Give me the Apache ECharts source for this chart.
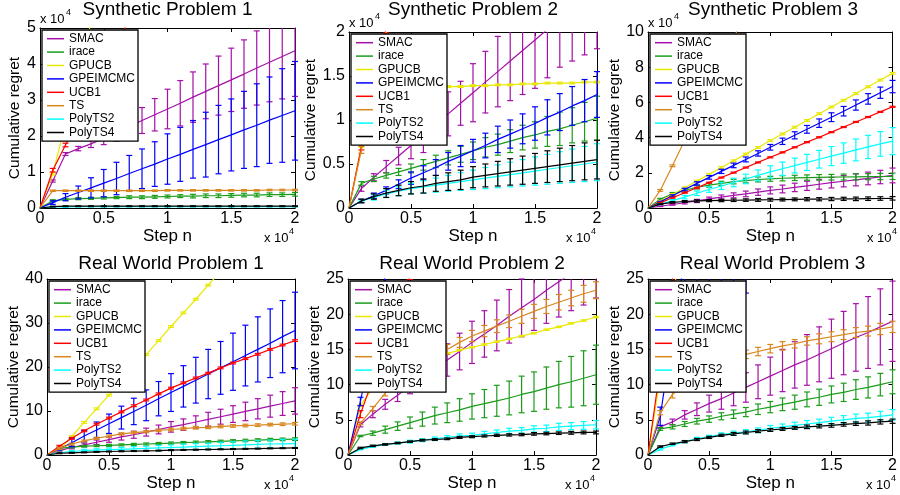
<!DOCTYPE html>
<html lang="en">
<head>
<meta charset="UTF-8">
<title>Cumulative regret</title>
<script src="https://cdn.jsdelivr.net/npm/echarts@6/dist/echarts.min.js"></script>
<style>
  html, body { margin: 0; padding: 0; background: #fff; }
  #main { width: 900px; height: 495px; }
</style>
</head>
<body>
<div id="main"></div>
<script type="text/javascript">
// step n (x axis), one value every 1000 steps
var steps = [0, 1000, 2000, 3000, 4000, 5000, 6000, 7000, 8000, 9000, 10000,
             11000, 12000, 13000, 14000, 15000, 16000, 17000, 18000, 19000, 20000];
var methods = ['SMAC', 'irace', 'GPUCB', 'GPEIMCMC', 'UCB1', 'TS', 'PolyTS2', 'PolyTS4'];
var titles = ['Synthetic Problem 1', 'Synthetic Problem 2', 'Synthetic Problem 3',
              'Real World Problem 1', 'Real World Problem 2', 'Real World Problem 3'];
// y axis ticks (synthetic problems are in units of 10^4)
var yMax  = [5, 2, 10, 40, 25, 25];
var yStep = [1, 0.5, 2, 10, 5, 5];

// mean cumulative regret, rows in the order of `methods`
var synth1Mean = [
  [0, 0.75, 1.5, 1.65, 1.78, 1.94, 2.1, 2.27, 2.43, 2.59, 2.75, 2.91, 3.08, 3.24, 3.4, 3.56, 3.72, 3.89, 4.05, 4.21, 4.37],
  [0, 0.2, 0.24, 0.26, 0.27, 0.28, 0.29, 0.3, 0.3, 0.31, 0.32, 0.33, 0.33, 0.34, 0.34, 0.35, 0.36, 0.36, 0.37, 0.37, 0.38],
  [0, 0.95, 2.35, 3.75, 5.15, 6.55],
  [0, 0.15, 0.3, 0.43, 0.56, 0.69, 0.82, 0.96, 1.09, 1.22, 1.36, 1.49, 1.63, 1.76, 1.9, 2.03, 2.17, 2.3, 2.44, 2.57, 2.7],
  [0, 1.05, 1.75, 2.45, 3.15, 3.85, 4.55, 5.25, 5.95],
  [0, 0.48, 0.48, 0.48, 0.48, 0.48, 0.48, 0.48, 0.48, 0.48, 0.49, 0.49, 0.49, 0.49, 0.49, 0.49, 0.49, 0.49, 0.5, 0.5, 0.5],
  [0, 0.03, 0.03, 0.04, 0.04, 0.04, 0.04, 0.04, 0.04, 0.04, 0.04, 0.04, 0.04, 0.04, 0.04, 0.04, 0.04, 0.04, 0.04, 0.04, 0.04],
  [0, 0.04, 0.05, 0.05, 0.05, 0.05, 0.05, 0.05, 0.05, 0.05, 0.05, 0.05, 0.05, 0.05, 0.05, 0.05, 0.05, 0.05, 0.05, 0.05, 0.05]
];
var synth1Err = [
  [0, 0.03, 0.04, 0.06, 0.1, 0.18, 0.25, 0.3, 0.36, 0.45, 0.55, 0.63, 0.7, 0.76, 0.82, 0.88, 0.95, 1.03, 1.1, 1.18, 1.27],
  [0, 0.03, 0.03, 0.03, 0.03, 0.03, 0.03, 0.04, 0.04, 0.04, 0.04, 0.04, 0.05, 0.05, 0.05, 0.05, 0.05, 0.05, 0.05, 0.05, 0.05],
  [0, 0.03, 0.04, 0.05, 0.06, 0.07],
  [0, 0.05, 0.1, 0.18, 0.28, 0.38, 0.45, 0.5, 0.55, 0.62, 0.7, 0.75, 0.8, 0.9, 0.95, 1.0, 1.07, 1.15, 1.2, 1.3, 1.37],
  [0, 0.05, 0.05, 0.06, 0.06, 0.07, 0.07, 0.08, 0.08],
  [0, 0.02, 0.02, 0.02, 0.02, 0.02, 0.02, 0.02, 0.02, 0.02, 0.02, 0.02, 0.02, 0.02, 0.02, 0.02, 0.02, 0.02, 0.02, 0.02, 0.02],
  [0, 0.01, 0.01, 0.01, 0.01, 0.01, 0.01, 0.01, 0.01, 0.01, 0.01, 0.01, 0.01, 0.01, 0.01, 0.01, 0.01, 0.01, 0.01, 0.01, 0.01],
  [0, 0.01, 0.01, 0.01, 0.01, 0.01, 0.01, 0.01, 0.01, 0.01, 0.01, 0.01, 0.01, 0.01, 0.01, 0.01, 0.01, 0.01, 0.01, 0.01, 0.01]
];

var synth2Mean = [
  [0, 0.22, 0.35, 0.47, 0.59, 0.71, 0.83, 0.95, 1.07, 1.19, 1.31, 1.43, 1.55, 1.67, 1.79, 1.91, 2.03, 2.15, 2.27, 2.39, 2.51],
  [0, 0.28, 0.33, 0.37, 0.41, 0.45, 0.49, 0.53, 0.57, 0.61, 0.65, 0.69, 0.72, 0.76, 0.8, 0.83, 0.87, 0.9, 0.94, 0.98, 1.02],
  [0, 0.7, 1.3, 1.34, 1.36, 1.37, 1.37, 1.37, 1.38, 1.38, 1.39, 1.39, 1.4, 1.4, 1.41, 1.41, 1.42, 1.42, 1.42, 1.43, 1.43],
  [0, 0.08, 0.14, 0.2, 0.27, 0.34, 0.4, 0.46, 0.53, 0.59, 0.65, 0.71, 0.78, 0.84, 0.9, 0.96, 1.03, 1.09, 1.16, 1.22, 1.29],
  [0, 0.7, 1.38, 2.05],
  [0, 0.66, 1.33, 2.0],
  [0, 0.08, 0.12, 0.16, 0.19, 0.22, 0.24, 0.26, 0.28, 0.3, 0.32, 0.34, 0.36, 0.38, 0.4, 0.42, 0.44, 0.46, 0.48, 0.5, 0.52],
  [0, 0.08, 0.13, 0.17, 0.2, 0.23, 0.25, 0.28, 0.3, 0.32, 0.35, 0.37, 0.39, 0.41, 0.43, 0.45, 0.47, 0.49, 0.51, 0.53, 0.55]
];
var synth2Err = [
  [0, 0.03, 0.04, 0.07, 0.1, 0.15, 0.2, 0.2, 0.25, 0.25, 0.33, 0.35, 0.4, 0.45, 0.5, 0.55, 0.55, 0.55, 0.6, 0.65, 0.7],
  [0, 0.02, 0.03, 0.03, 0.04, 0.05, 0.06, 0.07, 0.08, 0.09, 0.1, 0.11, 0.12, 0.13, 0.14, 0.15, 0.17, 0.19, 0.2, 0.22, 0.25],
  [0, 0.01, 0.01, 0.01, 0.01, 0.01, 0.01, 0.01, 0.01, 0.01, 0.01, 0.01, 0.01, 0.01, 0.01, 0.01, 0.01, 0.01, 0.01, 0.01, 0.01],
  [0, 0.02, 0.03, 0.04, 0.05, 0.07, 0.08, 0.09, 0.1, 0.12, 0.13, 0.14, 0.15, 0.16, 0.17, 0.19, 0.2, 0.21, 0.22, 0.24, 0.26],
  [0, 0.04, 0.05, 0.06],
  [0, 0.04, 0.05, 0.06],
  [0, 0.01, 0.03, 0.04, 0.05, 0.06, 0.07, 0.08, 0.09, 0.1, 0.11, 0.12, 0.13, 0.14, 0.15, 0.16, 0.17, 0.18, 0.19, 0.2, 0.21],
  [0, 0.02, 0.03, 0.05, 0.06, 0.07, 0.08, 0.09, 0.1, 0.11, 0.12, 0.13, 0.14, 0.15, 0.16, 0.17, 0.18, 0.19, 0.2, 0.21, 0.22]
];

var synth3Mean = [
  [0, 0.1, 0.2, 0.3, 0.4, 0.52, 0.62, 0.72, 0.8, 0.9, 1.0, 1.08, 1.17, 1.26, 1.35, 1.44, 1.52, 1.6, 1.68, 1.76, 1.85],
  [0, 0.5, 0.8, 1.0, 1.18, 1.3, 1.4, 1.5, 1.56, 1.62, 1.66, 1.69, 1.71, 1.73, 1.74, 1.75, 1.76, 1.77, 1.78, 1.79, 1.8],
  [0, 0.38, 0.77, 1.15, 1.53, 1.91, 2.3, 2.68, 3.06, 3.44, 3.83, 4.21, 4.59, 4.97, 5.36, 5.74, 6.12, 6.5, 6.89, 7.27, 7.65],
  [0, 0.35, 0.7, 1.05, 1.4, 1.74, 2.08, 2.42, 2.76, 3.1, 3.45, 3.79, 4.13, 4.47, 4.82, 5.16, 5.5, 5.85, 6.2, 6.55, 6.9],
  [0, 0.29, 0.58, 0.87, 1.15, 1.44, 1.73, 2.01, 2.3, 2.59, 2.88, 3.16, 3.45, 3.74, 4.02, 4.31, 4.6, 4.89, 5.17, 5.46, 5.75],
  [0, 1.0, 2.4, 3.85, 5.3, 6.75, 8.2, 9.65, 11.1],
  [0, 0.22, 0.42, 0.62, 0.84, 1.05, 1.25, 1.45, 1.65, 1.85, 2.05, 2.23, 2.41, 2.59, 2.77, 2.95, 3.12, 3.3, 3.47, 3.64, 3.8],
  [0, 0.22, 0.32, 0.37, 0.4, 0.42, 0.43, 0.44, 0.45, 0.46, 0.47, 0.48, 0.49, 0.5, 0.5, 0.51, 0.52, 0.52, 0.53, 0.54, 0.55]
];
var synth3Err = [
  [0, 0.02, 0.04, 0.07, 0.09, 0.1, 0.12, 0.14, 0.16, 0.18, 0.2, 0.22, 0.24, 0.26, 0.28, 0.3, 0.32, 0.34, 0.36, 0.38, 0.42],
  [0, 0.05, 0.08, 0.1, 0.1, 0.12, 0.12, 0.13, 0.13, 0.14, 0.14, 0.15, 0.15, 0.15, 0.16, 0.16, 0.17, 0.17, 0.17, 0.18, 0.18],
  [0, 0.05, 0.05, 0.05, 0.05, 0.05, 0.05, 0.05, 0.05, 0.05, 0.05, 0.05, 0.05, 0.05, 0.05, 0.05, 0.05, 0.05, 0.05, 0.05, 0.05],
  [0, 0.03, 0.05, 0.07, 0.09, 0.1, 0.12, 0.13, 0.14, 0.15, 0.16, 0.18, 0.2, 0.22, 0.24, 0.25, 0.27, 0.29, 0.3, 0.32, 0.35],
  [0, 0.03, 0.03, 0.03, 0.03, 0.03, 0.03, 0.03, 0.03, 0.03, 0.03, 0.03, 0.03, 0.03, 0.03, 0.03, 0.03, 0.03, 0.03, 0.03, 0.03],
  [0, 0.05, 0.05, 0.05, 0.05, 0.05, 0.05, 0.05, 0.05],
  [0, 0.03, 0.06, 0.1, 0.13, 0.16, 0.2, 0.24, 0.27, 0.31, 0.35, 0.38, 0.42, 0.46, 0.5, 0.54, 0.58, 0.62, 0.66, 0.7, 0.77],
  [0, 0.02, 0.04, 0.05, 0.06, 0.06, 0.07, 0.07, 0.07, 0.08, 0.08, 0.08, 0.08, 0.09, 0.09, 0.09, 0.09, 0.1, 0.1, 0.1, 0.1]
];

var real1Mean = [
  [0, 1.0, 1.7, 2.3, 2.9, 3.5, 4.1, 4.6, 5.2, 5.8, 6.4, 6.9, 7.5, 8.1, 8.7, 9.3, 9.9, 10.5, 11.1, 11.7, 12.3],
  [0, 1.5, 1.8, 2.0, 2.1, 2.2, 2.3, 2.4, 2.5, 2.6, 2.7, 2.8, 2.9, 3.0, 3.1, 3.2, 3.3, 3.4, 3.5, 3.55, 3.6],
  [0, 1.2, 4.2, 7.4, 10.5, 13.6, 16.6, 19.8, 22.8, 26.0, 29.2, 32.3, 35.4, 38.6, 41.7],
  [0, 1.4, 2.8, 4.3, 5.7, 7.1, 8.5, 9.9, 11.3, 12.8, 14.2, 15.6, 17.0, 18.4, 19.8, 21.2, 22.6, 24.0, 25.4, 26.9, 28.3],
  [0, 2.0, 3.8, 5.5, 7.0, 8.4, 9.8, 11.2, 12.5, 13.9, 15.2, 16.4, 17.5, 18.6, 19.8, 20.9, 21.9, 22.9, 24.0, 25.0, 26.0],
  [0, 1.5, 2.5, 3.2, 3.8, 4.3, 4.8, 5.1, 5.3, 5.6, 5.8, 6.0, 6.2, 6.3, 6.5, 6.6, 6.7, 6.8, 6.9, 7.0, 7.1],
  [0, 0.5, 0.8, 1.0, 1.1, 1.2, 1.3, 1.4, 1.5, 1.6, 1.7, 1.8, 1.9, 2.0, 2.1, 2.2, 2.3, 2.4, 2.5, 2.55, 2.6],
  [0, 0.4, 0.5, 0.6, 0.7, 0.8, 0.85, 0.9, 0.95, 1.0, 1.1, 1.15, 1.2, 1.25, 1.3, 1.35, 1.4, 1.45, 1.5, 1.55, 1.6]
];
var real1Err = [
  [0, 0.2, 0.3, 0.4, 0.5, 0.6, 0.7, 0.8, 0.9, 1.0, 1.2, 1.3, 1.4, 1.6, 1.7, 1.9, 2.1, 2.3, 2.5, 2.7, 3.0],
  [0, 0.15, 0.2, 0.2, 0.2, 0.22, 0.22, 0.24, 0.24, 0.25, 0.25, 0.26, 0.26, 0.27, 0.27, 0.28, 0.28, 0.29, 0.29, 0.3, 0.3],
  [0, 0.2, 0.2, 0.2, 0.2, 0.2, 0.2, 0.2, 0.2, 0.2, 0.2, 0.2, 0.2, 0.2, 0.2],
  [0, 0.3, 0.9, 1.3, 1.8, 2.2, 2.6, 3.0, 3.5, 3.9, 4.3, 4.7, 5.2, 5.6, 6.0, 6.5, 6.9, 7.4, 7.8, 8.2, 8.7],
  [0, 0.2, 0.2, 0.2, 0.2, 0.2, 0.2, 0.2, 0.2, 0.2, 0.2, 0.2, 0.2, 0.2, 0.2, 0.2, 0.2, 0.2, 0.2, 0.2, 0.2],
  [0, 0.2, 0.2, 0.2, 0.25, 0.25, 0.25, 0.25, 0.25, 0.3, 0.3, 0.3, 0.3, 0.3, 0.3, 0.3, 0.3, 0.3, 0.3, 0.3, 0.3],
  [0, 0.1, 0.2, 0.3, 0.3, 0.4, 0.4, 0.5, 0.5, 0.6, 0.6, 0.7, 0.7, 0.7, 0.8, 0.8, 0.9, 0.9, 0.9, 1.0, 1.0],
  [0, 0.1, 0.1, 0.1, 0.1, 0.1, 0.1, 0.1, 0.1, 0.1, 0.1, 0.1, 0.1, 0.1, 0.1, 0.1, 0.1, 0.1, 0.1, 0.1, 0.1]
];

var real2Mean = [
  [0, 4.3, 5.8, 7.2, 8.5, 9.8, 11.0, 12.3, 13.5, 14.7, 16.0, 17.2, 18.4, 19.7, 20.9, 22.1, 23.4, 24.6, 25.8, 27.0, 28.3],
  [0, 2.7, 3.1, 3.6, 4.1, 4.6, 5.1, 5.6, 6.0, 6.4, 6.9, 7.3, 7.7, 8.1, 8.6, 9.0, 9.5, 10.0, 10.4, 10.9, 11.4],
  [0, 7.0, 9.5, 11.0, 12.0, 12.8, 13.4, 13.9, 14.4, 14.9, 15.3, 15.7, 16.1, 16.5, 16.9, 17.3, 17.8, 18.2, 18.7, 19.1, 19.6],
  [0, 7.6, 16.2, 25.5],
  [0, 5.8, 10.7, 15.6, 20.5, 25.4],
  [0, 4.5, 6.6, 8.8, 10.5, 11.9, 13.0, 14.0, 15.0, 16.0, 16.9, 17.6, 18.3, 19.0, 19.7, 20.4, 21.1, 21.7, 22.3, 22.9, 23.4],
  [0, 0.8, 1.2, 1.5, 1.7, 1.9, 2.1, 2.3, 2.5, 2.7, 2.8, 3.0, 3.2, 3.4, 3.5, 3.7, 3.8, 4.0, 4.1, 4.2, 4.3],
  [0, 1.0, 1.3, 1.5, 1.7, 1.9, 2.1, 2.2, 2.3, 2.5, 2.6, 2.7, 2.8, 2.85, 2.9, 3.0, 3.05, 3.1, 3.15, 3.2, 3.2]
];
var real2Err = [
  [0, 0.3, 0.5, 0.7, 0.9, 1.1, 1.5, 1.9, 2.3, 2.6, 3.0, 3.3, 3.6, 3.8, 4.1, 4.4, 4.7, 5.0, 5.3, 5.7, 6.0],
  [0, 0.1, 0.3, 0.5, 0.6, 0.8, 1.0, 1.2, 1.4, 1.6, 1.8, 2.0, 2.2, 2.4, 2.6, 2.8, 3.0, 3.3, 3.6, 3.9, 4.2],
  [0, 0.1, 0.1, 0.1, 0.1, 0.1, 0.1, 0.1, 0.1, 0.1, 0.1, 0.1, 0.1, 0.1, 0.1, 0.1, 0.1, 0.1, 0.1, 0.1, 0.1],
  [0, 0.6, 0.8, 1.0],
  [0, 0.5, 0.5, 0.5, 0.5, 0.5],
  [0, 0.2, 0.3, 0.4, 0.5, 0.5, 0.6, 0.6, 0.7, 0.7, 0.8, 0.8, 0.9, 0.9, 1.0, 1.0, 1.0, 1.1, 1.1, 1.2, 1.2],
  [0, 0.05, 0.1, 0.1, 0.15, 0.2, 0.2, 0.25, 0.25, 0.3, 0.3, 0.35, 0.35, 0.4, 0.4, 0.45, 0.45, 0.5, 0.5, 0.55, 0.6],
  [0, 0.1, 0.1, 0.1, 0.1, 0.1, 0.12, 0.12, 0.12, 0.14, 0.14, 0.14, 0.16, 0.16, 0.16, 0.18, 0.18, 0.18, 0.2, 0.2, 0.2]
];

var real3Mean = [
  [0, 4.0, 4.7, 5.7, 6.5, 7.3, 8.0, 8.8, 9.6, 10.4, 11.2, 12.0, 12.8, 13.5, 14.3, 15.1, 15.9, 16.7, 17.4, 18.2, 19.0],
  [0, 3.7, 4.0, 4.4, 4.8, 5.1, 5.5, 5.8, 6.1, 6.5, 6.8, 7.2, 7.5, 7.9, 8.2, 8.6, 8.9, 9.3, 9.6, 10.0, 10.4],
  [0, 11.0, 22.0, 33.0],
  [0, 5.5, 17.0, 28.0, 34.0, 38.0, 41.0, 44.0, 46.0, 48.0, 50.0],
  [0, 12.5, 25.0, 37.5],
  [0, 6.0, 8.6, 10.2, 11.5, 12.5, 13.2, 13.8, 14.3, 14.7, 15.1, 15.5, 15.8, 16.2, 16.5, 16.8, 17.1, 17.4, 17.6, 17.9, 18.2],
  [0, 0.8, 1.4, 1.9, 2.3, 2.6, 2.9, 3.1, 3.3, 3.5, 3.8, 4.0, 4.2, 4.4, 4.6, 4.8, 5.0, 5.2, 5.3, 5.5, 5.7],
  [0, 1.2, 1.6, 1.9, 2.2, 2.5, 2.8, 3.0, 3.2, 3.4, 3.55, 3.7, 3.85, 4.0, 4.1, 4.2, 4.35, 4.45, 4.55, 4.7, 4.8]
];
var real3Err = [
  [0, 0.2, 0.4, 0.6, 0.9, 1.2, 1.5, 1.8, 2.1, 2.4, 2.7, 3.0, 3.3, 3.6, 3.9, 4.2, 4.5, 4.8, 5.1, 5.4, 5.7],
  [0, 0.2, 0.3, 0.35, 0.4, 0.45, 0.5, 0.6, 0.65, 0.75, 0.8, 0.9, 1.0, 1.05, 1.15, 1.2, 1.3, 1.4, 1.5, 1.6, 1.7],
  [0, 0.3, 0.3, 0.3],
  [0, 1.3, 7.0, 18.0, 9.5, 14.0, 17.0, 20.0, 23.0, 22.0, 21.0],
  [0, 0.3, 0.3, 0.3],
  [0, 0.3, 0.5, 0.5, 0.5, 0.5, 0.6, 0.6, 0.6, 0.6, 0.6, 0.6, 0.6, 0.6, 0.7, 0.7, 0.7, 0.7, 0.7, 0.8, 0.8],
  [0, 0.1, 0.1, 0.15, 0.2, 0.2, 0.25, 0.3, 0.3, 0.35, 0.4, 0.4, 0.45, 0.5, 0.5, 0.55, 0.6, 0.6, 0.65, 0.7, 0.75],
  [0, 0.1, 0.1, 0.15, 0.15, 0.15, 0.15, 0.2, 0.2, 0.2, 0.2, 0.2, 0.2, 0.25, 0.25, 0.25, 0.25, 0.25, 0.3, 0.3, 0.3]
];

var allMean = [synth1Mean, synth2Mean, synth3Mean, real1Mean, real2Mean, real3Mean];
var allErr  = [synth1Err, synth2Err, synth3Err, real1Err, real2Err, real3Err];

// look
var colors = ['#a410a8', '#1a9c1a', '#e8e800', '#0000ff', '#ff0000', '#d8861e', '#00ffff', '#000000'];
var FONT = "'Liberation Sans', Arial, Helvetica, sans-serif";
// [left, top, width, height] of each axes box
var boxes = [
  [40, 28, 255, 180], [349, 32, 248, 176], [648, 32, 250, 176],
  [47, 279, 248, 176], [348, 279, 248, 176], [648, 279, 249, 176]
];
var yNameGap = [15, 25, 22, 21, 22, 22];

var myChart = echarts.init(document.getElementById('main'));

function errorBars(params, api) {
    var x = api.value(0), m = api.value(1), e = api.value(2);
    var cs = params.coordSys;
    var top = api.coord([x, m + e]);
    var bot = api.coord([x, m - e]);
    var y0 = cs.y, y1 = cs.y + cs.height;
    var ya = Math.max(top[1], y0), yb = Math.min(bot[1], y1);
    if (ya >= yb) return null;
    var c = api.visual('color');
    var kids = [{type: 'line', shape: {x1: top[0], y1: ya, x2: top[0], y2: yb}, style: {stroke: c, lineWidth: 1.2}}];
    if (top[1] >= y0) kids.push({type: 'line', shape: {x1: top[0] - 3, y1: top[1], x2: top[0] + 3, y2: top[1]}, style: {stroke: c, lineWidth: 1.2}});
    if (bot[1] <= y1) kids.push({type: 'line', shape: {x1: bot[0] - 3, y1: bot[1], x2: bot[0] + 3, y2: bot[1]}, style: {stroke: c, lineWidth: 1.2}});
    return {type: 'group', children: kids};
}

var grids = [], xAxes = [], yAxes = [], legends = [], series = [], graphics = [];
for (var p = 0; p < 6; p++) {
    var b = boxes[p];
    grids.push({left: b[0], top: b[1], width: b[2], height: b[3], containLabel: false});
    var lineBlack = {show: true, onZero: false, lineStyle: {color: '#000', width: 1}};
    var tickIn = {show: true, inside: true, length: 4, lineStyle: {color: '#000'}};
    xAxes.push({
        gridIndex: p, type: 'value', min: 0, max: 20000, interval: 5000, position: 'bottom',
        axisLine: lineBlack, axisTick: tickIn, splitLine: {show: false},
        axisLabel: {color: '#000', fontSize: 16, fontFamily: FONT, margin: 3,
                    formatter: function (v) { return String(v / 10000); }},
        name: 'Step n', nameLocation: 'middle', nameGap: p < 3 ? 15 : 13,
        nameTextStyle: {color: '#000', fontSize: 17, fontFamily: FONT}
    });
    xAxes.push({
        gridIndex: p, type: 'value', min: 0, max: 20000, interval: 5000, position: 'top',
        axisLine: lineBlack, axisTick: tickIn, splitLine: {show: false}, axisLabel: {show: false}
    });
    yAxes.push({
        gridIndex: p, type: 'value', min: 0, max: yMax[p], interval: yStep[p], position: 'left',
        axisLine: lineBlack, axisTick: tickIn, splitLine: {show: false},
        axisLabel: {color: '#000', fontSize: 16, fontFamily: FONT, margin: 4},
        name: 'Cumulative regret', nameLocation: 'middle', nameGap: yNameGap[p],
        nameTextStyle: {color: '#000', fontSize: 15.5, fontFamily: FONT}
    });
    yAxes.push({
        gridIndex: p, type: 'value', min: 0, max: yMax[p], interval: yStep[p], position: 'right',
        axisLine: lineBlack, axisTick: tickIn, splitLine: {show: false}, axisLabel: {show: false}
    });
    legends.push({
        orient: 'vertical', left: b[0] + 2, top: b[1] + 2, data: methods,
        backgroundColor: '#fff', borderColor: '#000', borderWidth: 1.3,
        padding: [2, 3, 2, 5], itemGap: 0, itemWidth: 17, itemHeight: 1.5, icon: 'rect',
        selectedMode: false,
        textStyle: {color: '#000', fontSize: 12, fontFamily: FONT, lineHeight: 13.4}
    });

    for (var m = 0; m < methods.length; m++) {
        var mean = allMean[p][m], err = allErr[p][m];
        var pts = [], bars = [];
        for (var i = 0; i < mean.length; i++) {
            pts.push([steps[i], mean[i]]);
            if (i > 0 && err[i] > 0) bars.push([steps[i], mean[i], err[i]]);
        }
        series.push({
            name: methods[m], type: 'line', xAxisIndex: 2 * p, yAxisIndex: 2 * p,
            data: pts, showSymbol: false, symbol: 'none', animation: false,
            lineStyle: {color: colors[m], width: 1.2}, itemStyle: {color: colors[m]}, z: 2 + m * 0.01
        });
        series.push({
            name: methods[m] + ' error', type: 'custom', xAxisIndex: 2 * p, yAxisIndex: 2 * p,
            data: bars, renderItem: errorBars, animation: false,
            encode: {x: 0, y: 1}, itemStyle: {color: colors[m]}, z: 2 + m * 0.01
        });
    }

    // subplot title
    graphics.push({type: 'text', x: b[0] + b[2] / 2, y: p < 3 ? 0 : 254,
        style: {text: titles[p], fontSize: 19, fontFamily: FONT, fill: '#000',
                textAlign: 'center', textVerticalAlign: 'top'}});
    // x 10^4 multiplier under the x axis
    var xr = b[0] + b[2] - 5, yb = b[1] + b[3] + 24;
    graphics.push({type: 'text', x: xr - 26, y: yb,
        style: {text: 'x 10', fontSize: 13, fontFamily: FONT, fill: '#000', textAlign: 'left', textVerticalAlign: 'top'}});
    graphics.push({type: 'text', x: xr - 1, y: yb - 5,
        style: {text: '4', fontSize: 9, fontFamily: FONT, fill: '#000', textAlign: 'left', textVerticalAlign: 'top'}});
    // x 10^4 multiplier above the y axis (synthetic problems)
    if (p < 3) {
        graphics.push({type: 'text', x: b[0], y: b[1] - 15,
            style: {text: 'x 10', fontSize: 13, fontFamily: FONT, fill: '#000', textAlign: 'left', textVerticalAlign: 'top'}});
        graphics.push({type: 'text', x: b[0] + 26, y: b[1] - 20,
            style: {text: '4', fontSize: 9, fontFamily: FONT, fill: '#000', textAlign: 'left', textVerticalAlign: 'top'}});
    }
}

var option = {
    animation: false,
    backgroundColor: '#fff',
    textStyle: {fontFamily: FONT},
    grid: grids,
    xAxis: xAxes,
    yAxis: yAxes,
    legend: legends,
    series: series,
    graphic: graphics
};
myChart.setOption(option);
</script>
</body>
</html>
